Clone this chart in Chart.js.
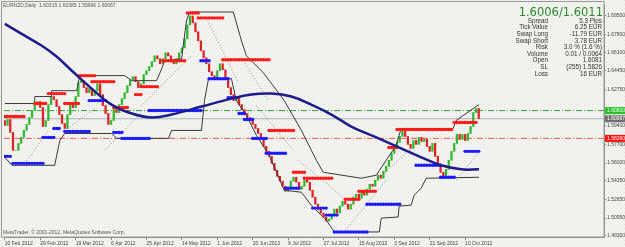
<!DOCTYPE html>
<html>
<head>
<meta charset="utf-8">
<script src="https://cdn.jsdelivr.net/npm/chart.js@4.4.0/dist/chart.umd.min.js"></script>
<style>
  html, body { margin: 0; padding: 0; background: #f3f3ef; }
</style>
</head>
<body>
<canvas id="mt4" width="625" height="247"></canvas>
<script>
// axis labels
var xLabels = ['10 Feb 2012', '29 Feb 2012', '19 Mar 2012', '6 Apr 2012', '25 Apr 2012', '14 May 2012',
  '1 Jun 2012', '20 Jun 2012', '9 Jul 2012', '27 Jul 2012', '15 Aug 2012', '3 Sep 2012', '21 Sep 2012', '10 Oct 2012'];
var xLabelBars = [0, 13, 26, 39, 52, 65, 78, 91, 104, 117, 130, 143, 156, 169];
var yTicks = [1.695, 1.678, 1.661, 1.6445, 1.6275, 1.594, 1.577, 1.56, 1.5435, 1.5265, 1.5095, 1.493];

// daily closes, one per bar
var firstOpen = 1.5990;
var closes = [
  1.5945, 1.5999, 1.5881, 1.5716, 1.5716, 1.5780, 1.5835, 1.5899, 1.5954, 1.6018,
  1.6082, 1.6136, 1.6164, 1.6109, 1.5935, 1.5990, 1.6136, 1.6210, 1.6182, 1.6118,
  1.6045, 1.5963, 1.5917, 1.6045, 1.6146, 1.6109, 1.6210, 1.6338, 1.6356, 1.6292,
  1.6246, 1.6283, 1.6219, 1.6264, 1.6328, 1.6228, 1.6127, 1.6054, 1.5954, 1.5990,
  1.6091, 1.6063, 1.6136, 1.6191, 1.6246, 1.6310, 1.6365, 1.6392, 1.6347, 1.6292,
  1.6328, 1.6411, 1.6447, 1.6484, 1.6530, 1.6584, 1.6557, 1.6511, 1.6557, 1.6612,
  1.6584, 1.6539, 1.6511, 1.6557, 1.6612, 1.6657, 1.6740, 1.6868, 1.6950, 1.6886,
  1.6804, 1.6721, 1.6630, 1.6566, 1.6511, 1.6438, 1.6402, 1.6374, 1.6447, 1.6511,
  1.6456, 1.6365, 1.6292, 1.6228, 1.6173, 1.6200, 1.6136, 1.6091, 1.6054, 1.6018,
  1.5990, 1.5954, 1.5917, 1.5871, 1.5826, 1.5753, 1.5707, 1.5661, 1.5597, 1.5533,
  1.5478, 1.5433, 1.5387, 1.5341, 1.5378, 1.5433, 1.5469, 1.5424, 1.5360, 1.5387,
  1.5442, 1.5424, 1.5350, 1.5286, 1.5222, 1.5177, 1.5140, 1.5104, 1.5067, 1.5085,
  1.5131, 1.5177, 1.5140, 1.5204, 1.5250, 1.5222, 1.5177, 1.5222, 1.5286, 1.5314,
  1.5277, 1.5332, 1.5305, 1.5360, 1.5405, 1.5387, 1.5442, 1.5488, 1.5460, 1.5524,
  1.5570, 1.5625, 1.5689, 1.5743, 1.5789, 1.5844, 1.5890, 1.5844, 1.5771, 1.5734,
  1.5807, 1.5771, 1.5835, 1.5798, 1.5817, 1.5753, 1.5707, 1.5780, 1.5661, 1.5579,
  1.5515, 1.5478, 1.5542, 1.5625, 1.5707, 1.5780, 1.5862, 1.5817, 1.5862, 1.5807,
  1.5871, 1.5935, 1.6063, 1.6100, 1.6007
];

// moving average
var maBars = [0, 6.2, 13.6, 19.1, 24.6, 31.9, 39.2, 46.6, 53.9, 61.2, 72.2, 83.2, 90.5, 97.9, 105.2, 112.5, 119.9, 127.2, 136.4, 145.5, 152.9, 160.2, 167.5, 174.1];
var maValues = [1.6877, 1.6785, 1.6676, 1.6575, 1.6447, 1.6283, 1.6136, 1.6054, 1.6018, 1.6045, 1.6118, 1.6191, 1.6228, 1.6237, 1.6210, 1.6136, 1.6045, 1.5935, 1.5835, 1.5734, 1.5652, 1.5579, 1.5542, 1.5542];

// price channel
var upperBars = [0, 11, 11, 17.2, 17.2, 26.4, 27.5, 44, 46.6, 55.7, 57.6, 58.7, 64.9, 66.7, 67.8, 83.9, 86.9, 88.7, 94.9, 102.6, 108.9, 114.4, 116.9, 130.9, 136.4, 140, 143.7, 145.5, 164.6, 165.7, 173, 174.1];
var upperValues = [1.6146, 1.6146, 1.6210, 1.6210, 1.6264, 1.6264, 1.6402, 1.6402, 1.6356, 1.6356, 1.6465, 1.6539, 1.6557, 1.6904, 1.6986, 1.6986, 1.6721, 1.6584, 1.6429, 1.6173, 1.5899, 1.5625, 1.5515, 1.5460, 1.5488, 1.5625, 1.5762, 1.5917, 1.5917, 1.5990, 1.6118, 1.6136];
var lowerBars = [0, 2.6, 18.3, 20.2, 22, 39.2, 41.1, 60.1, 61.2, 72.2, 73.3, 74.8, 83.2, 85, 88.7, 92.4, 97.1, 102.6, 108.9, 112.5, 118, 121, 137.5, 138.2, 144.4, 144.8, 149.2, 150.3, 152.9, 154.7, 174.1];
var lowerValues = [1.5652, 1.5579, 1.5579, 1.5807, 1.5871, 1.5871, 1.5826, 1.5826, 1.5899, 1.5899, 1.6173, 1.6374, 1.6374, 1.6173, 1.6036, 1.5853, 1.5670, 1.5350, 1.5332, 1.5213, 1.5076, 1.4967, 1.4967, 1.5094, 1.5104, 1.5204, 1.5213, 1.5305, 1.5369, 1.5460, 1.5469];

// resistance (red) and support (blue) levels
var resStart = [0, 11, 16, 22, 27, 32, 40, 48, 50, 58, 67, 71, 80, 97, 106, 110, 125, 130, 141, 144, 165];
var resEnd   = [7, 15, 22, 27, 33, 40, 45, 50, 56, 66, 71, 80, 97, 106, 110, 120, 130, 136, 144, 164, 173];
var resLevel = [1.6027, 1.6146, 1.6237, 1.6146, 1.6402, 1.6347, 1.6109, 1.6228, 1.6301, 1.6539, 1.6977, 1.6932, 1.6548, 1.5899, 1.5515, 1.5460, 1.5268, 1.5341, 1.5743, 1.5908, 1.5972];
var supStart = [0, 3, 14, 18, 22, 31, 40, 43, 53, 72, 75, 82, 86, 88, 91, 96, 103, 113, 118, 121, 133, 151, 160, 169];
var supEnd   = [2, 14, 18, 20, 31, 37, 43, 53, 72, 75, 82, 85, 88, 91, 96, 103, 108, 118, 122, 133, 145, 160, 165, 174];
var supLevel = [1.5661, 1.5597, 1.5835, 1.5917, 1.5890, 1.6173, 1.5881, 1.5826, 1.6082, 1.6539, 1.6374, 1.6200, 1.6054, 1.5999, 1.5826, 1.5689, 1.5369, 1.5186, 1.5122, 1.4967, 1.5222, 1.5579, 1.5469, 1.5707];

// parabolic stop segments
var sarFromBar = [7.3, 22, 36.7, 50.2, 74, 86.9, 92.4, 107.8, 124.6, 138.9, 165.7];
var sarFromVal = [1.5597, 1.5899, 1.5716, 1.6127, 1.6932, 1.6566, 1.6127, 1.5625, 1.4967, 1.5497, 1.5442];
var sarToBar   = [16.1, 33, 50.2, 68.5, 85.4, 96.8, 105.9, 125.4, 140, 149.2, 174.1];
var sarToVal   = [1.5899, 1.6100, 1.6063, 1.6584, 1.6356, 1.6173, 1.5716, 1.5259, 1.5442, 1.5734, 1.5698];

// order lines
var openPrice = 1.6081;
var bidPrice = 1.6006;
var slPrice = 1.5826;

var infoLabels = ['Spread', 'Tick Value', 'Swap Long', 'Swap Short', 'Risk', 'Volume', 'Open', 'SL', 'Loss'];
var infoValues = ['5.3 Pips', '6.25 EUR', '-11.79 EUR', '3.78 EUR', '3.0 % (1.6 %)', '0.01 / 0.0064', '1.6081', '(255) 1.5826', '16 EUR'];

var opens = closes.map(function (c, i) { return i === 0 ? firstOpen : closes[i - 1]; });

function segPoints(starts, ends, levels) {
    var pts = [];
    starts.forEach(function (s, k) {
        for (var b = s; b <= ends[k]; b++) pts.push({ x: b, y: levels[k] });
        pts.push({ x: ends[k] + 0.01, y: null });
    });
    return pts;
}

function zipPoints(xs, ys) {
    return xs.map(function (x, i) { return { x: x, y: ys[i] }; });
}

var sarPoints = [];
sarFromBar.forEach(function (b, k) {
    sarPoints.push({ x: b, y: sarFromVal[k] });
    sarPoints.push({ x: sarToBar[k], y: sarToVal[k] });
    sarPoints.push({ x: sarToBar[k] + 0.01, y: null });
});

function hline(level) {
    return [{ x: -0.3, y: level }, { x: 220, y: level }];
}

var bgPlugin = {
    id: 'bg',
    beforeDraw: function (chart) {
        var ctx = chart.ctx;
        ctx.save();
        ctx.fillStyle = '#f3f3ef';
        ctx.fillRect(0, 0, chart.width, chart.height);
        var p = document.createElement('canvas');
        p.width = 4; p.height = 4;
        var pc = p.getContext('2d');
        pc.fillStyle = 'rgba(0,0,0,0.07)';
        pc.fillRect(0, 0, 1, 1);
        pc.fillRect(2, 2, 1, 1);
        ctx.fillStyle = ctx.createPattern(p, 'repeat');
        ctx.fillRect(0, 0, chart.width, chart.height);
        ctx.restore();
    }
};

var textPlugin = {
    id: 'texts',
    afterDraw: function (chart) {
        var ctx = chart.ctx;
        var area = chart.chartArea;
        var y = chart.scales.y;
        ctx.save();
        // frame
        ctx.strokeStyle = '#9a9a9a';
        ctx.lineWidth = 1;
        ctx.strokeRect(1.5, 1.5, area.right - 1.5, area.bottom - 1.5);

        // title + watermark
        ctx.fillStyle = '#555';
        ctx.font = '5px "Liberation Sans"';
        ctx.textAlign = 'left';
        ctx.textBaseline = 'middle';
        ctx.fillText('EURNZD,Daily  1.60315 1.60385 1.59996 1.60067', 3, 6);
        ctx.fillText('MetaTrader, \u00a9 2001-2012, MetaQuotes Software Corp.', 3, 233);

        // info block
        ctx.fillStyle = '#2b8a2b';
        ctx.font = '11.5px "DejaVu Sans"';
        ctx.textAlign = 'right';
        ctx.textBaseline = 'alphabetic';
        ctx.fillText('1.6006/1.6011', 603, 15.5);
        ctx.font = '6.3px "Liberation Sans"';
        ctx.fillStyle = '#333';
        ctx.textBaseline = 'middle';
        infoLabels.forEach(function (t, i) {
            var ty = 21 + i * 6.6;
            ctx.fillText(t, 548, ty);
            ctx.fillText(infoValues[i], 602, ty);
        });

        // price boxes on the axis
        var boxes = [[openPrice, '#22c322', '1.60810'], [bidPrice, '#707070', '1.60067'], [slPrice, '#ff1010', '1.58260']];
        ctx.font = '5px "Liberation Sans"';
        ctx.textAlign = 'left';
        boxes.forEach(function (b) {
            var py = y.getPixelForValue(b[0]);
            ctx.fillStyle = b[1];
            ctx.fillRect(605, py - 3.5, 20, 7);
            ctx.fillStyle = '#fff';
            ctx.fillText(b[2], 607, py);
        });
        ctx.restore();
    }
};

var lineBase = { type: 'line', pointRadius: 0, fill: false, spanGaps: false };

var config = {
    type: 'bar',
    data: {
        datasets: [
            Object.assign({}, lineBase, {
                data: zipPoints(maBars, maValues),
                borderColor: '#1c1c8c', borderWidth: 2.5, tension: 0.4, order: 1
            }),
            Object.assign({}, lineBase, {
                data: segPoints(resStart, resEnd, resLevel),
                borderColor: '#ff1a1a', borderWidth: 2,
                pointRadius: 1.7, pointBackgroundColor: '#ff1a1a', pointBorderWidth: 0, order: 2
            }),
            Object.assign({}, lineBase, {
                data: segPoints(supStart, supEnd, supLevel),
                borderColor: '#1a1aff', borderWidth: 2,
                pointRadius: 1.7, pointBackgroundColor: '#1a1aff', pointBorderWidth: 0, order: 2
            }),
            Object.assign({}, lineBase, {
                data: zipPoints(upperBars, upperValues),
                borderColor: '#3a3a3a', borderWidth: 1, order: 3
            }),
            Object.assign({}, lineBase, {
                data: zipPoints(lowerBars, lowerValues),
                borderColor: '#3a3a3a', borderWidth: 1, order: 3
            }),
            Object.assign({}, lineBase, {
                data: sarPoints,
                borderColor: '#8a8a8a', borderWidth: 1, borderDash: [1, 2], order: 4
            }),
            {
                type: 'bar',
                data: closes.map(function (c, i) { return { x: i, y: [opens[i], c] }; }),
                backgroundColor: closes.map(function (c, i) { return c >= opens[i] ? '#2fb82f' : '#dd2424'; }),
                barThickness: 1.6,
                grouped: false,
                order: 5
            },
            Object.assign({}, lineBase, {
                data: hline(openPrice), borderColor: '#35a035', borderWidth: 1, borderDash: [6, 2, 1, 2], order: 6
            }),
            Object.assign({}, lineBase, {
                data: hline(bidPrice), borderColor: '#a6b6ba', borderWidth: 1, order: 6
            }),
            Object.assign({}, lineBase, {
                data: hline(slPrice), borderColor: '#ff5050', borderWidth: 1, borderDash: [6, 2, 1, 2], order: 6
            })
        ]
    },
    options: {
        responsive: false,
        animation: false,
        layout: { padding: { left: 2, top: 2, right: 0, bottom: 0 } },
        plugins: {
            legend: { display: false },
            tooltip: { enabled: false }
        },
        scales: {
            x: {
                type: 'linear',
                offset: false,
                min: -0.3,
                max: 220,
                afterFit: function (s) { s.height = 10; s.paddingLeft = 0; s.paddingRight = 0; },
                afterBuildTicks: function (s) { s.ticks = xLabelBars.map(function (v) { return { value: v }; }); },
                ticks: {
                    callback: function (v, i) { return xLabels[i]; },
                    align: 'start',
                    maxRotation: 0,
                    autoSkip: false,
                    padding: 1,
                    color: '#444',
                    font: { size: 5, family: 'Liberation Sans' }
                },
                grid: { drawOnChartArea: false, tickLength: 3, color: '#8a8a8a', offset: false },
                border: { color: '#8a8a8a' }
            },
            y: {
                position: 'right',
                min: 1.49208,
                max: 1.70596,
                afterFit: function (s) { s.width = 21; s.paddingTop = 0; s.paddingBottom = 0; },
                afterBuildTicks: function (s) { s.ticks = yTicks.map(function (v) { return { value: v }; }); },
                ticks: {
                    callback: function (v) { return v.toFixed(5); },
                    padding: 1,
                    color: '#444',
                    font: { size: 5, family: 'Liberation Sans' }
                },
                grid: { drawOnChartArea: false, tickLength: 2, color: '#8a8a8a' },
                border: { color: '#8a8a8a' }
            }
        }
    },
    plugins: [bgPlugin, textPlugin]
};

var mt4Chart = new Chart(document.getElementById('mt4'), config);
</script>
</body>
</html>
